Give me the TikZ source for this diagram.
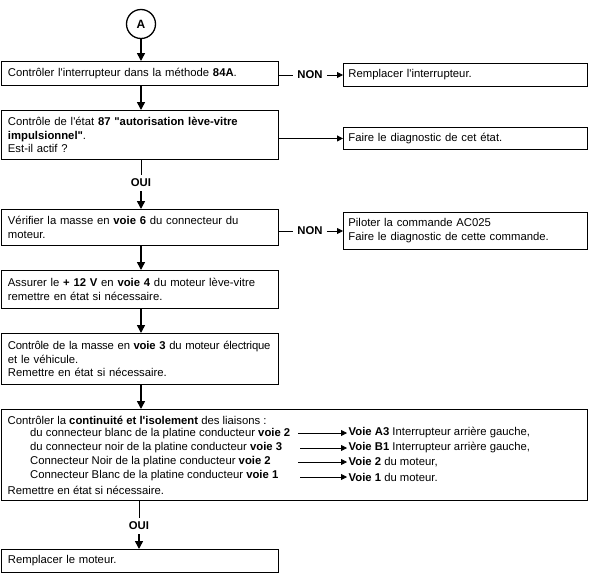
\documentclass[tikz,border=0pt]{standalone}
\usepackage{fontspec}
\setmainfont{Liberation Sans}[Ligatures=TeXOff]
\usetikzlibrary{arrows.meta}
\begin{document}
\begin{tikzpicture}[x=1pt,y=-1pt,
  every node/.style={font=\fontsize{11.3}{13.8}\selectfont},
  box/.style={draw, line width=0.9pt, anchor=north west, align=left, inner xsep=6.5pt, inner ysep=0pt},
  lbox/.style={box, text width=264pt},
  rbox/.style={box, inner xsep=5pt, text width=234pt},
  txt/.style={anchor=west, inner sep=0pt},
  rtxt/.style={anchor=west, inner sep=1.5pt},
  varrow/.style={line width=1.6pt, -{Triangle[length=8pt,width=8pt]}},
  harrow/.style={line width=0.8pt, -{Triangle[length=6pt,width=6pt]}},
  conn/.style={line width=0.8pt},
  lab/.style={font=\fontsize{11.3}{13.8}\selectfont\bfseries, inner xsep=4pt, inner ysep=4pt}
]
\useasboundingbox (0,0) rectangle (590,576);

\node[circle, draw, line width=1.3pt, minimum size=29pt, inner sep=0pt,
      font=\fontsize{12}{14}\selectfont\bfseries] (A) at (141,24) {A};

% left column boxes
\node[lbox, minimum height=24pt] (b1) at (1,61)
  {Contrôler l'interrupteur dans la méthode \textbf{84A}.};
\node[lbox, minimum height=49pt] (b2) at (1,110)
  {\mbox{Contrôle de l'état \textbf{87 "autorisation lève-vitre}}\\\textbf{impulsionnel"}.\\Est-il actif ?};
\node[lbox, minimum height=36pt] (b3) at (1,209)
  {\mbox{Vérifier la masse en \textbf{voie 6} du connecteur du}\\moteur.};
\node[lbox, minimum height=38pt] (b4) at (1,270)
  {\mbox{Assurer le \textbf{+ 12 V} en \textbf{voie 4} du moteur lève-vitre}\\remettre en état si nécessaire.};
\node[lbox, minimum height=51pt] (b5) at (1,333)
  {\mbox{\addfontfeature{LetterSpace=-1.8}Contrôle de la masse en \textbf{voie 3} du moteur électrique}\\et le véhicule.\\Remettre en état si nécessaire.};
\node[box, minimum width=586pt, minimum height=91pt, inner sep=0pt] (b6) at (1,409) {};
\node[lbox, minimum height=23pt] (b7) at (1,549)
  {Remplacer le moteur.};

% right column boxes
\node[rbox, minimum height=23pt] (r1) at (343,63) {Remplacer l'interrupteur.};
\node[rbox, minimum height=22pt] (r2) at (343,127) {Faire le diagnostic de cet état.};
\node[rbox, minimum height=37pt] (r3) at (343,212)
  {Piloter la commande AC025\\Faire le diagnostic de cette commande.};

% texts inside box 6
\node[txt] (t61) at (7.5,420) {Contrôler la \textbf{continuité et l'isolement} des liaisons :};
\node[txt] (t62) at (30,434) {du connecteur blanc de la platine conducteur \textbf{voie 2}};
\node[txt] (t63) at (30,448) {du connecteur noir de la platine conducteur \textbf{voie 3}};
\node[txt] (t64) at (30,462) {Connecteur Noir de la platine conducteur \textbf{voie 2}};
\node[txt] (t65) at (30,476) {Connecteur Blanc de la platine conducteur \textbf{voie 1}};
\node[txt] (t66) at (7.5,490) {Remettre en état si nécessaire.};
\node[rtxt] (u62) at (347,433) {\textbf{Voie A3} Interrupteur arrière gauche,};
\node[rtxt] (u63) at (347,448) {\textbf{Voie B1} Interrupteur arrière gauche,};
\node[rtxt] (u64) at (347,462) {\textbf{Voie 2} du moteur,};
\node[rtxt] (u65) at (347,477) {\textbf{Voie 1} du moteur.};
\coordinate (s62) at (298,433);
\coordinate (s63) at (300,448);
\coordinate (s64) at (298,462);
\coordinate (s65) at (300,477);
\draw[harrow] (s62) -- (u62.west);
\draw[harrow] (s63) -- (u63.west);
\draw[harrow] (s64) -- (u64.west);
\draw[harrow] (s65) -- (u65.west);

% labels
\node[lab] (non1) at (310,75) {NON};
\node[lab] (non3) at (310,231) {NON};
\node[lab] (oui1) at (141,183) {OUI};
\node[lab] (oui2) at (139,526) {OUI};

% vertical flow
\draw[varrow] (A.south) -- (A.south |- b1.north);
\draw[varrow] (b1.south -| A) -- (b2.north -| A);
\draw[conn] (b2.south -| oui1) -- (oui1.north);
\draw[varrow] (oui1.south) -- (b3.north -| oui1);
\draw[varrow] (b3.south -| A) -- (b4.north -| A);
\draw[varrow] (b4.south -| A) -- (b5.north -| A);
\draw[varrow] (b5.south -| A) -- (b6.north -| A);
\draw[conn] (b6.south -| oui2) -- (oui2.north);
\draw[varrow] (oui2.south) -- (b7.north -| oui2);

% horizontal flow
\draw[conn] (b1.east |- non1) -- (non1.west);
\draw[harrow] (non1.east) -- (r1.west |- non1);
\draw[harrow] (b2.east |- r2.west) -- (r2.west);
\draw[conn] (b3.east |- non3) -- (non3.west);
\draw[harrow] (non3.east) -- (r3.west |- non3);
\end{tikzpicture}
\end{document}
